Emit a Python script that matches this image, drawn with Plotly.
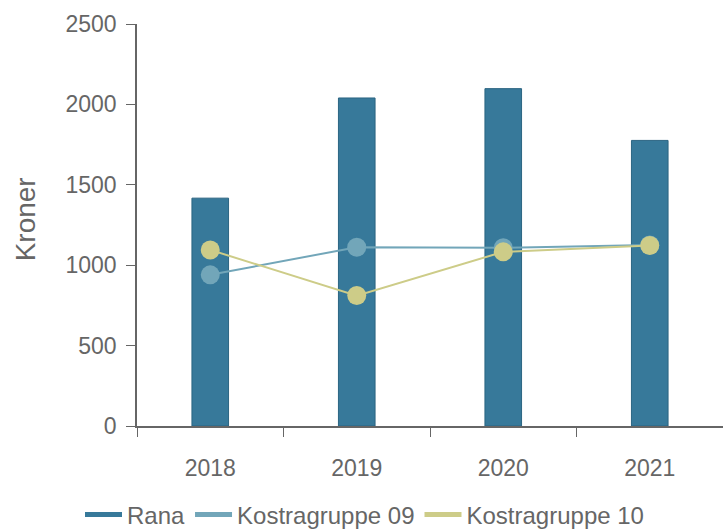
import plotly.graph_objects as go

years = ['2018', '2019', '2020', '2021']
rana = [1417, 2040, 2098, 1776]
kostra09 = [940, 1112, 1108, 1126]
kostra10 = [1095, 811, 1083, 1122]

c_rana = '#37799a'
c_k09 = '#72a6b9'
c_k10 = '#cdcc88'

fig = go.Figure()
fig.add_trace(go.Bar(x=years, y=rana, name='Rana', width=0.25,
                     marker=dict(color=c_rana, line=dict(color='#2b6482', width=1)),
                     showlegend=False))
fig.add_trace(go.Scatter(x=years, y=kostra09, name='Kostragruppe 09', mode='lines+markers',
                         line=dict(color=c_k09, width=2), marker=dict(size=19, color=c_k09),
                         showlegend=False))
fig.add_trace(go.Scatter(x=years, y=kostra10, name='Kostragruppe 10', mode='lines+markers',
                         line=dict(color=c_k10, width=2), marker=dict(size=19, color=c_k10),
                         showlegend=False))

# legend entries drawn as short thick lines
for name, col in [('Rana', c_rana), ('Kostragruppe 09', c_k09), ('Kostragruppe 10', c_k10)]:
    fig.add_trace(go.Scatter(x=[None], y=[None], mode='lines', name=name,
                             line=dict(color=col, width=5)))

fig.update_layout(
    width=723, height=529,
    margin=dict(l=137, r=0, t=24, b=103, autoexpand=False),
    plot_bgcolor='white', paper_bgcolor='white',
    font=dict(family='Liberation Sans, Arial, sans-serif', size=22, color='#666666'),
    legend=dict(orientation='h', xref='container', yref='container',
                x=80 / 723, y=(529 - 515) / 529, yanchor='middle', xanchor='left',
                font=dict(size=24, color='#666666'), itemwidth=37, tracegroupgap=0),
    annotations=[dict(text='Kroner', x=(25 - 137) / 586, xref='paper', xanchor='center',
                      y=0.514, yref='paper', textangle=-90, showarrow=False,
                      font=dict(size=28, color='#666666'))],
)
fig.update_xaxes(showline=True, linecolor='#666666', linewidth=1.5, automargin=False,
                 ticks='outside', tickson='boundaries', ticklen=9, tickcolor='#666666',
                 range=[-0.5, 3.5], showgrid=False, tickfont=dict(size=23), ticklabelstandoff=21)
fig.update_yaxes(range=[0, 2500], dtick=500, showline=True, linecolor='#666666', linewidth=1.5,
                 ticks='outside', ticklen=9, tickcolor='#666666', showgrid=False, zeroline=False,
                 automargin=False, tickfont=dict(size=23), ticklabelstandoff=5)

fig.write_html("out.html", config={'displayModeBar': False},
               post_script="document.body.style.margin='0';")
